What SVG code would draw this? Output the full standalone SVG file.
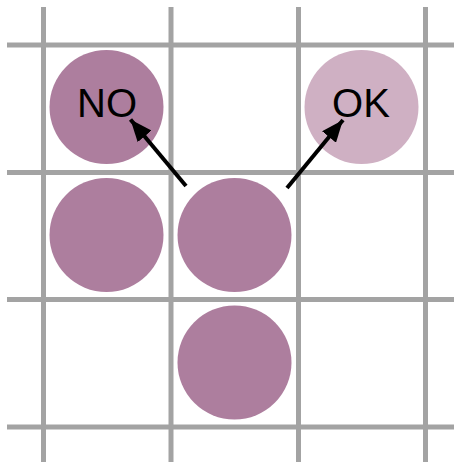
<svg xmlns="http://www.w3.org/2000/svg" width="454" height="462" viewBox="0 0 454 462">
<style>
.grid line{stroke:#a3a3a3;stroke-width:5}
.dot{fill:#ad7e9e}
.lite{fill:#cfb0c3}
.lbl{font-family:"Liberation Sans",Arial,sans-serif;font-size:40px;fill:#000;text-anchor:middle}
.conn{stroke:#000;stroke-width:4;fill:none;marker-end:url(#ah)}
</style>
<defs>
<marker id="ah" markerUnits="userSpaceOnUse" viewBox="0 0 22 18" refX="22" refY="9" markerWidth="22" markerHeight="18" orient="auto">
<path d="M0,0 L22,9 L0,18 z" fill="#000"/>
</marker>
</defs>
<rect width="454" height="462" fill="#fff"/>
<g class="grid">
<line x1="43.5" y1="7" x2="43.5" y2="462"/>
<line x1="171" y1="7" x2="171" y2="462"/>
<line x1="298.5" y1="7" x2="298.5" y2="462"/>
<line x1="425.5" y1="7" x2="425.5" y2="462"/>
<line x1="7" y1="45" x2="454" y2="45"/>
<line x1="7" y1="172.5" x2="454" y2="172.5"/>
<line x1="7" y1="299.5" x2="454" y2="299.5"/>
<line x1="7" y1="427" x2="454" y2="427"/>
</g>
<g id="no"><circle class="dot" cx="106.5" cy="107" r="57"/><text class="lbl" x="107" y="117">NO</text></g>
<g id="ok"><circle class="lite" cx="361.5" cy="107" r="57"/><text class="lbl" x="361" y="117">OK</text></g>
<g id="c1"><circle class="dot" cx="106.5" cy="235" r="57"/></g>
<g id="c2"><circle class="dot" cx="234.5" cy="235" r="57"/></g>
<g id="c3"><circle class="dot" cx="234.5" cy="362.5" r="57"/></g>
<g id="connectors">
<line class="conn" x1="186" y1="186" x2="130.5" y2="119.5"/>
<line class="conn" x1="287" y1="188" x2="343" y2="120"/>
</g>
</svg>
